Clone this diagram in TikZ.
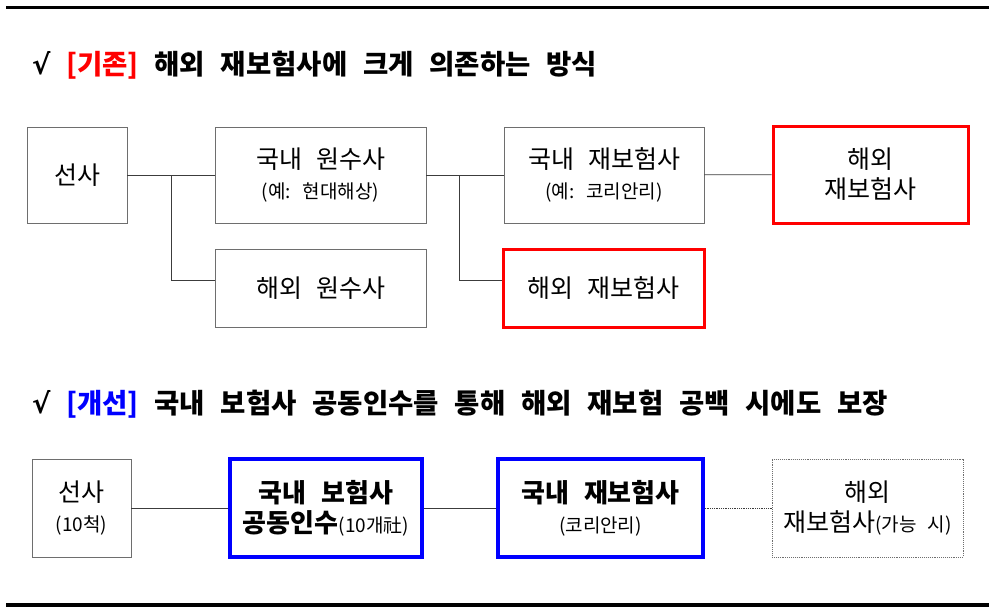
\documentclass[tikz,border=0pt]{standalone}
\usepackage{fontspec}
\setmainfont{Noto Sans CJK KR}[WordSpace=2.5]
\newfontfamily\symfont{DejaVu Sans}
\definecolor{boxgray}{RGB}{110,110,110}
\definecolor{linegray}{RGB}{60,60,60}
\newcommand{\subtxt}[1]{{\fontsize{19}{22}\selectfont #1}}
\begin{document}
\begin{tikzpicture}[x=1pt,y=-1pt]
	\tikzset{
		box/.style={draw=boxgray, line width=0.9pt, align=center, inner sep=0pt,
				font=\fontsize{25}{30}\selectfont},
		redbox/.style={box, draw=red, line width=3pt},
		bluebox/.style={box, draw=blue, line width=3.5pt},
		dotbox/.style={box, densely dotted},
		link/.style={draw=linegray, line width=0.8pt},
		headline/.style={anchor=west, inner sep=0pt, font=\fontsize{27.5}{32}\selectfont\bfseries},
	}
	\useasboundingbox (0,0) rectangle (994,614);
	\draw[line width=3pt] (6,7) -- (989,7);
	\draw[line width=3.5pt] (6,605) -- (989,605);

	\node[headline] (old) at (32,65) {{\symfont √} \textcolor{red}{[기존]} 해외 재보험사에 크게 의존하는 방식};
	\node[headline] (new) at (32,404) {{\symfont √} \textcolor{blue}{[개선]} 국내 보험사 공동인수를 통해 해외 재보험 공백 시에도 보장};

	\node[box, minimum width=100pt, minimum height=96pt] (shipA) at (77,175) {선사};
	\node[box, minimum width=211pt, minimum height=96pt] (domP) at (320.5,175) {국내 원수사\\\subtxt{(예: 현대해상)}};
	\node[box, minimum width=211pt, minimum height=78pt] (forP) at (320.5,288) {해외 원수사};
	\node[box, minimum width=200pt, minimum height=96pt] (domR) at (604,175) {국내 재보험사\\\subtxt{(예: 코리안리)}};
	\node[redbox, minimum width=195pt, minimum height=97pt] (forRa) at (870.5,174.5) {해외\\재보험사};
	\node[redbox, minimum width=201pt, minimum height=78pt] (forRb) at (603.5,288) {해외 재보험사};

	\coordinate (j1) at (171,175);
	\coordinate (j2) at (459,175);
	\draw[link] (shipA) -- (domP);
	\draw[link] (j1) |- ([yshift=8pt]forP.west);
	\draw[link] (domP) -- (domR);
	\draw[link] (j2) |- ([yshift=8pt]forRb.west);
	\draw[link] (domR) -- (forRa);

	\node[box, minimum width=99pt, minimum height=98pt] (shipB) at (81.5,508) {선사\\\subtxt{(10척)}};
	\node[bluebox, minimum width=192pt, minimum height=98pt,
		font=\fontsize{26}{30}\selectfont\bfseries] (pool) at (326,508) {국내 보험사\\공동인수\subtxt{\mdseries(10개社)}};
	\node[bluebox, minimum width=205pt, minimum height=98pt] (korR) at (600.5,508) {\fontsize{26}{30}\selectfont\bfseries 국내 재보험사\\\subtxt{(코리안리)}};
	\node[dotbox, minimum width=191pt, minimum height=98pt] (forRc) at (867.5,508) {해외\\재보험사\subtxt{(가능 시)}};

	\draw[link] (shipB) -- (pool);
	\draw[link] (pool) -- (korR);
	\draw[link, densely dotted] (korR) -- (forRc);
\end{tikzpicture}
\end{document}
